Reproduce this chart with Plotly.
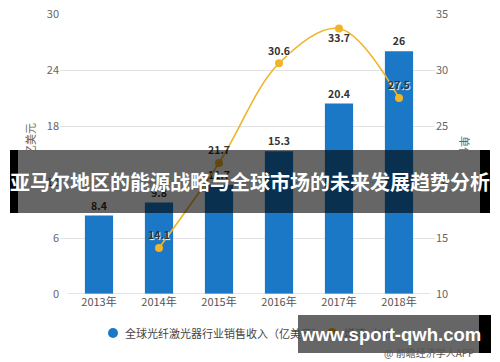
import plotly.graph_objects as go

years = ["2013年", "2014年", "2015年", "2016年", "2017年", "2018年"]
revenue = [8.4, 9.8, 11.7, 15.3, 20.4, 26]
growth = [None, 14.1, 21.7, 30.6, 33.7, 27.5]
growth_pos = ["top center", "top center", "top center", "top center", "bottom center", "top center"]
left_ticks = [0, 6, 12, 18, 24, 30]
right_ticks = [10, 15, 20, 25, 30, 35]

rev_name = "全球光纤激光器行业销售收入（亿美元）"
growth_name = "增速（%）"
title_text = "亚马尔地区的能源战略与全球市场的未来发展趋势分析"
site_text = "www.sport-qwh.com"
source_text = "@ 前瞻经济学人APP"

BLUE = "#1a78c6"
GOLD = "#f0b429"
FONT = "Noto Sans CJK SC, Noto Sans, sans-serif"

# the page body has an 8px margin; figure is sized so the plot area lands at
# screen x 60..435, y 14..294
def px(x):
    return (x - 60) / 375.0

def py(y):
    return (294 - y) / 280.0

fig = go.Figure()
fig.add_trace(go.Bar(
    x=years, y=revenue, marker=dict(color=BLUE, line=dict(width=0)), width=0.47,
    text=[f"{v:g}" for v in revenue], textposition="outside", cliponaxis=False,
    textfont=dict(size=10.5, color="#333", family=FONT, weight="bold"),
    showlegend=False, yaxis="y", name=rev_name,
))
fig.add_trace(go.Scatter(
    x=years, y=growth, mode="lines+markers+text", yaxis="y2", name=growth_name,
    line=dict(color=GOLD, width=1.6, shape="spline", smoothing=1.0),
    marker=dict(color=GOLD, size=8),
    text=[("" if v is None else f"{v:g}") for v in growth], textposition=growth_pos,
    textfont=dict(size=10.5, color="#333", family=FONT, weight="bold", shadow="1px 1px 1px white"),
    cliponaxis=False, showlegend=False,
))

def circle(cx, cy, r, color):
    return dict(type="circle", xref="paper", yref="paper",
                x0=px(cx - r), x1=px(cx + r), y0=py(cy + r), y1=py(cy - r),
                fillcolor=color, line=dict(width=0), layer="above")

shapes = [
    dict(type="line", xref="x", yref="y", x0=-0.52, x1=5.52, y0=0, y1=0,
         line=dict(color="#c8c8c8", width=1), layer="above"),
    # legend markers
    circle(113, 333, 5, BLUE),
    circle(332, 333, 5, GOLD),
    # title banner
    dict(type="rect", xref="paper", yref="paper", x0=px(18), x1=px(480), y0=py(213), y1=py(150),
         fillcolor="rgba(0,0,0,0.6)", line=dict(width=0), layer="above"),
    dict(type="rect", xref="paper", yref="paper", x0=px(10), x1=px(18), y0=py(213), y1=py(150),
         fillcolor="black", line=dict(width=0), layer="above"),
    dict(type="rect", xref="paper", yref="paper", x0=px(480), x1=px(490), y0=py(213), y1=py(150),
         fillcolor="black", line=dict(width=0), layer="above"),
    # site banner
    dict(type="rect", xref="paper", yref="paper", x0=px(298), x1=px(479), y0=py(353), y1=py(315),
         fillcolor="rgba(0,0,0,0.6)", line=dict(width=0), layer="above"),
    dict(type="rect", xref="paper", yref="paper", x0=px(479), x1=px(491), y0=py(353), y1=py(315),
         fillcolor="black", line=dict(width=0), layer="above"),
]

def note(text, x, y, size, color, xanchor="center", angle=0, family=FONT):
    return dict(text=text, xref="paper", yref="paper", x=px(x), y=py(y),
                xanchor=xanchor, yanchor="middle", textangle=angle, showarrow=False,
                font=dict(size=size, color=color, family=family))

annotations = [
    note("单位：亿美元", 30, 156, 11, "#666", angle=-90),
    note("单位：%", 465, 157, 11, "#666", angle=90),
    note(rev_name, 123, 333, 11, "#444", xanchor="left"),
    note(growth_name, 342, 333, 11, "#444", xanchor="left"),
    note(source_text, 476, 352, 10, "#555", xanchor="right"),
    note(f"<b>{title_text}</b>", 250, 181, 20, "white"),
    note(f"<b>{site_text}</b>", 390, 334, 18.5, "white",
         family="Liberation Sans, Arial, sans-serif"),
]

axis_font = dict(size=11, color="#666")
fig.update_layout(
    width=492, height=354,
    margin=dict(l=52, r=65, t=6, b=68, autoexpand=False),
    paper_bgcolor="white", plot_bgcolor="white",
    font=dict(family=FONT, color="#666", size=11),
    showlegend=False,
    xaxis=dict(type="category", range=[-0.65, 5.6], showgrid=False, showline=False, ticks="",
               tickfont=dict(size=11, color="#555"), automargin=False),
    yaxis=dict(range=[0, 30], tickvals=left_ticks, showgrid=True, gridcolor="#e3e3e3",
               zeroline=False, showline=False, ticks="", tickfont=axis_font,
               automargin=False, ticklabeloverflow="allow"),
    yaxis2=dict(range=[10, 35], tickvals=right_ticks, overlaying="y", side="right",
                showgrid=False, zeroline=False, showline=False, ticks="",
                tickfont=axis_font, automargin=False, ticklabeloverflow="allow"),
    shapes=shapes, annotations=annotations,
)

fig.write_html("out.html")
